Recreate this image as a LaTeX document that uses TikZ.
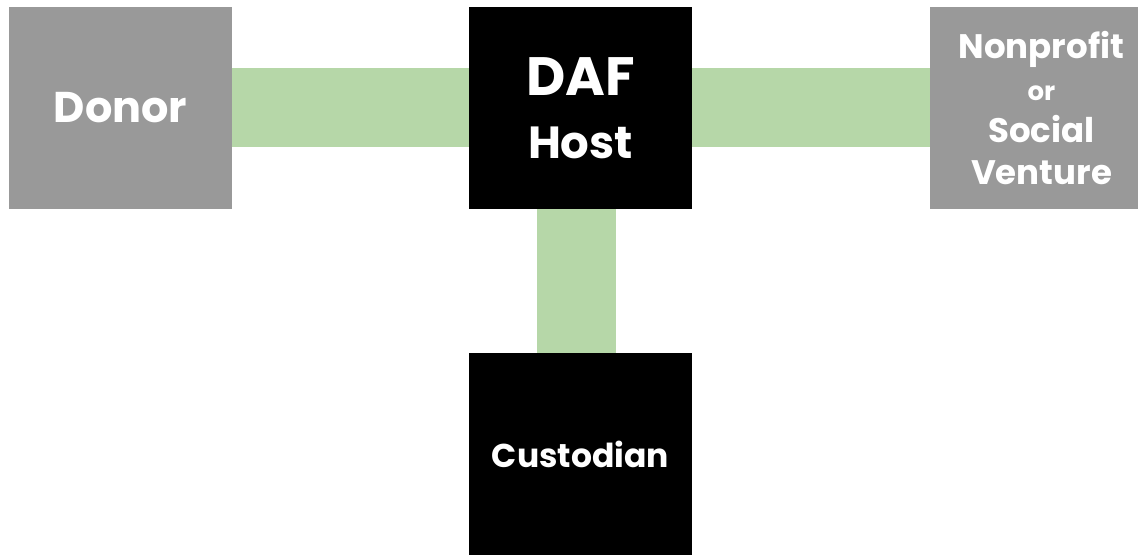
\documentclass[tikz,border=0pt]{standalone}
\usepackage{fontspec}
\setmainfont{Poppins}
\usepackage{tikz}
\usetikzlibrary{positioning}
\definecolor{boxgray}{HTML}{999999}
\definecolor{linkgreen}{HTML}{B6D7A8}
\tikzset{
  party/.style={fill=boxgray,text=white,align=center,
    minimum width=223pt,minimum height=202pt,inner sep=0pt},
  core/.style={party,fill=black},
  link/.style={draw=linkgreen,line width=79pt}
}

\begin{document}
\begin{tikzpicture}[x=1pt,y=1pt]
  \useasboundingbox (0,0) rectangle (1138,555);
  \node[party,font=\bfseries\fontsize{43}{50}\selectfont] (donor) at (120.5,447) {Donor};
  \node[core,font=\bfseries\fontsize{45}{63}\selectfont] (daf) at (580.5,447)
    {\fontsize{54}{63}\selectfont DAF\\Host};
  \node[party,font=\bfseries\fontsize{34}{42}\selectfont] (npo) at (1041.5,447)
    {Nonprofit\\\fontsize{26}{42}\selectfont or\\Social\\Venture};
  \node[core,font=\bfseries\fontsize{33}{40}\selectfont] (cust) at (580.5,101) {Custodian};
  \draw[link] (donor.east) -- (daf.west);
  \draw[link] (daf.east) -- (npo.west);
  \draw[link] ([xshift=-4pt]daf.south) -- ([xshift=-4pt]cust.north);
\end{tikzpicture}
\end{document}
